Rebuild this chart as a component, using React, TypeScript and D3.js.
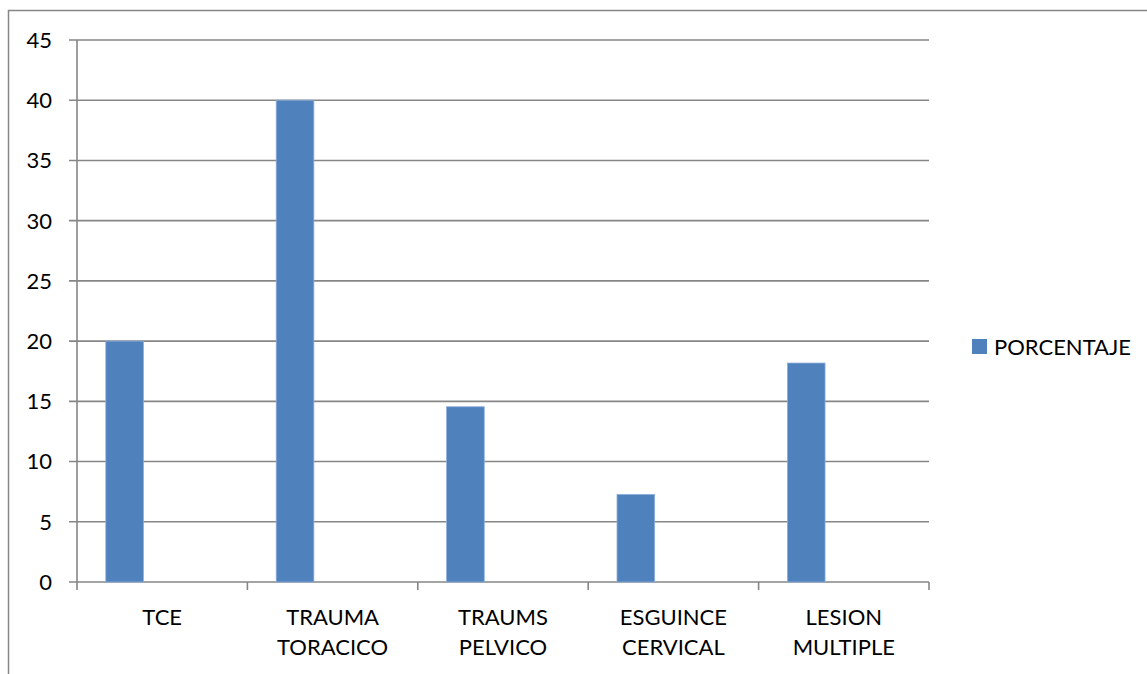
import { useRef, useEffect } from 'react'
import * as d3 from 'd3'

const categories = [
  ['TCE'],
  ['TRAUMA', 'TORACICO'],
  ['TRAUMS', 'PELVICO'],
  ['ESGUINCE', 'CERVICAL'],
  ['LESION', 'MULTIPLE'],
]
const porcentaje = [20, 40, 14.55, 7.27, 18.18]
const yTicks = [0, 5, 10, 15, 20, 25, 30, 35, 40, 45]
const seriesName = 'PORCENTAJE'

function App() {
  const containerRef = useRef<HTMLDivElement>(null)

  useEffect(() => {
    if (!containerRef.current) return
    document.body.style.margin = '0'

    const container = containerRef.current
    container.innerHTML = ''

    const width = 1147
    const height = 674
    const margin = { top: 40, right: 218, bottom: 92, left: 77 }
    const font = 'Lato, "Liberation Sans", sans-serif'
    const fontSize = '22px'
    const grid = '#868686'

    const svg = d3.select(container)
      .append('svg')
      .attr('width', width)
      .attr('height', height)
      .style('display', 'block')
      .attr('font-family', font)

    svg.append('rect')
      .attr('width', width)
      .attr('height', height)
      .attr('fill', 'white')

    // outer chart frame (clipped at right and bottom)
    svg.append('rect')
      .attr('x', 8.5)
      .attr('y', 10.5)
      .attr('width', width + 20)
      .attr('height', height + 20)
      .attr('fill', 'none')
      .attr('stroke', grid)
      .attr('stroke-width', 1.5)

    const keys = categories.map(c => c.join(' '))

    const x = d3.scaleBand<string>()
      .domain(keys)
      .range([margin.left, width - margin.right])

    const y = d3.scaleLinear()
      .domain([0, 45])
      .range([height - margin.bottom, margin.top])

    // gridlines + y ticks
    svg.append('g')
      .selectAll('line')
      .data(yTicks)
      .enter()
      .append('line')
      .attr('x1', margin.left - 8)
      .attr('x2', width - margin.right)
      .attr('y1', d => y(d))
      .attr('y2', d => y(d))
      .attr('stroke', grid)
      .attr('stroke-width', 1.6)

    svg.append('g')
      .selectAll('text')
      .data(yTicks)
      .enter()
      .append('text')
      .attr('x', 52)
      .attr('y', d => y(d))
      .attr('dy', '0.36em')
      .attr('text-anchor', 'end')
      .attr('font-size', fontSize)
      .attr('fill', '#000')
      .text(d => d)

    // y axis line
    svg.append('line')
      .attr('x1', margin.left)
      .attr('x2', margin.left)
      .attr('y1', y(45))
      .attr('y2', y(0))
      .attr('stroke', grid)
      .attr('stroke-width', 1.6)

    // category ticks
    const tickXs = keys.map(k => x(k)!).concat([width - margin.right])
    svg.append('g')
      .selectAll('line')
      .data(tickXs)
      .enter()
      .append('line')
      .attr('x1', d => d)
      .attr('x2', d => d)
      .attr('y1', y(0))
      .attr('y2', y(0) + 8)
      .attr('stroke', grid)
      .attr('stroke-width', 1.6)

    // bars
    const bw = x.bandwidth()
    svg.append('g')
      .selectAll('rect')
      .data(porcentaje)
      .enter()
      .append('rect')
      .attr('x', (_, i) => x(keys[i])! + bw * 0.169)
      .attr('width', bw * 0.221)
      .attr('y', d => y(d))
      .attr('height', d => y(0) - y(d))
      .attr('fill', '#4f81bd')
      .attr('stroke', '#8eaedb')
      .attr('stroke-width', 0.8)

    // category labels
    const labels = svg.append('g')
    categories.forEach((lines, i) => {
      const cx = x(keys[i])! + bw / 2
      lines.forEach((line, j) => {
        labels.append('text')
          .attr('x', cx)
          .attr('y', 624.5 + j * 30)
          .attr('text-anchor', 'middle')
          .attr('font-size', fontSize)
          .attr('fill', '#000')
          .text(line)
      })
    })

    // legend
    svg.append('rect')
      .attr('x', 972)
      .attr('y', 339)
      .attr('width', 15)
      .attr('height', 15)
      .attr('fill', '#4f81bd')

    svg.append('text')
      .attr('x', 994)
      .attr('y', 354.5)
      .attr('font-size', fontSize)
      .attr('fill', '#000')
      .text(seriesName)
  }, [])

  return <div ref={containerRef} />
}

export default App
